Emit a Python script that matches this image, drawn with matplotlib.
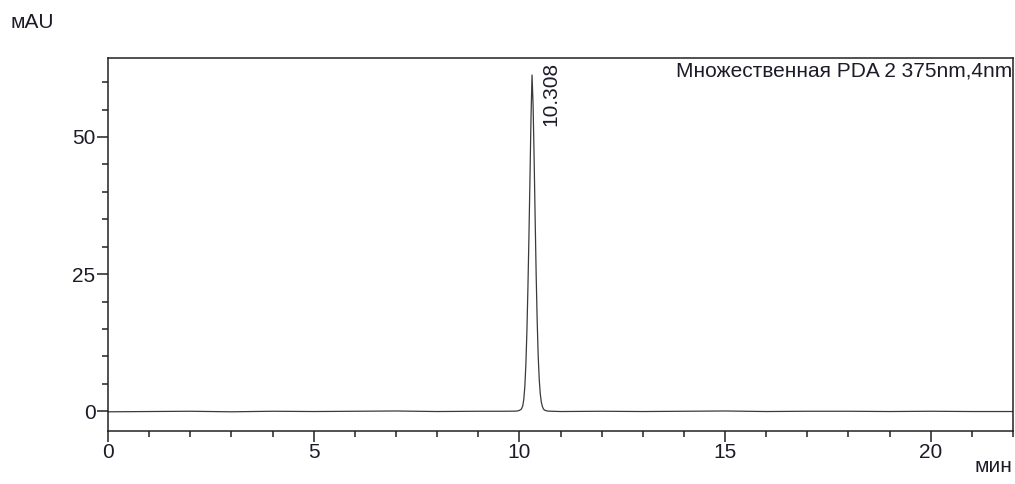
import matplotlib
matplotlib.use("Agg")
import matplotlib.pyplot as plt
from matplotlib.ticker import MultipleLocator

# chromatogram trace (min, mAU)
time_min = [0.0, 1.0, 2.0, 3.0, 4.0, 5.0, 6.0, 7.0, 8.0, 9.0, 9.6, 9.9,
            9.95, 10.0, 10.05, 10.083, 10.108, 10.133, 10.158, 10.183,
            10.208, 10.233, 10.258, 10.283, 10.308, 10.333, 10.358, 10.383,
            10.408, 10.433, 10.458, 10.483, 10.508, 10.533, 10.558, 10.583,
            10.608, 10.658, 10.708, 10.8, 11.0, 12.0, 13.0, 14.0, 15.0,
            16.0, 17.0, 18.0, 19.0, 20.0, 21.0, 22.0]
signal_mau = [-0.1, -0.05, 0.0, -0.1, 0.0, -0.05, 0.0, 0.05, -0.05, 0.0, 0.0, 0.02,
              0.05, 0.15, 0.4, 1.0, 2.2, 4.5, 8.5, 14.5,
              22.5, 32.0, 42.5, 53.5, 61.3, 56.0, 46.5, 35.5,
              25.0, 16.5, 10.0, 5.8, 3.2, 1.7, 0.9, 0.45,
              0.22, 0.08, 0.02, 0.0, -0.05, 0.0, -0.05, 0.0, 0.05,
              -0.05, 0.0, 0.0, -0.05, 0.0, -0.05, -0.05]

peak_time = 10.308
peak_label = "10.308"
channel_label = "Множественная PDA 2 375nm,4nm"
x_unit = "мин"
y_unit = "мAU"

plt.rcParams["font.family"] = ["Liberation Sans", "DejaVu Sans"]
txt = "#1c1c28"
fs = 15

fig = plt.figure(figsize=(10.15, 4.84), dpi=100)
ax = fig.add_axes([108 / 1015, 1 - 431 / 484, (1013 - 108) / 1015, (431 - 58) / 484])

ax.plot(time_min, signal_mau, color="#3a3a3a", lw=0.9)

ax.set_xlim(0, 22)
ax.set_ylim(-3.6, 64.4)
ax.xaxis.set_major_locator(MultipleLocator(5))
ax.xaxis.set_minor_locator(MultipleLocator(1))
ax.yaxis.set_major_locator(MultipleLocator(25))
ax.yaxis.set_minor_locator(MultipleLocator(5))
ax.tick_params(which="major", length=8, width=1.1, labelsize=fs, colors="#222222",
               labelcolor=txt, pad=1)
ax.tick_params(which="minor", length=4.5, width=1.1, colors="#222222")
for sp in ax.spines.values():
    sp.set_linewidth(1.1)
    sp.set_color("#222222")

ax.annotate(peak_label, xy=(peak_time, 63.7), xytext=(7, 0), textcoords="offset points",
            rotation=90, ha="left", va="top", fontsize=fs, color=txt)
ax.text(0.999, 0.99, channel_label, transform=ax.transAxes, ha="right", va="top",
        fontsize=fs, color=txt)

fig.text(10 / 1015, 1 - 22 / 484, y_unit, ha="left", va="center", fontsize=fs, color=txt)
fig.text(1012 / 1015, 1 - 466 / 484, x_unit, ha="right", va="center", fontsize=fs, color=txt)

fig.savefig("out.png", dpi=100)
